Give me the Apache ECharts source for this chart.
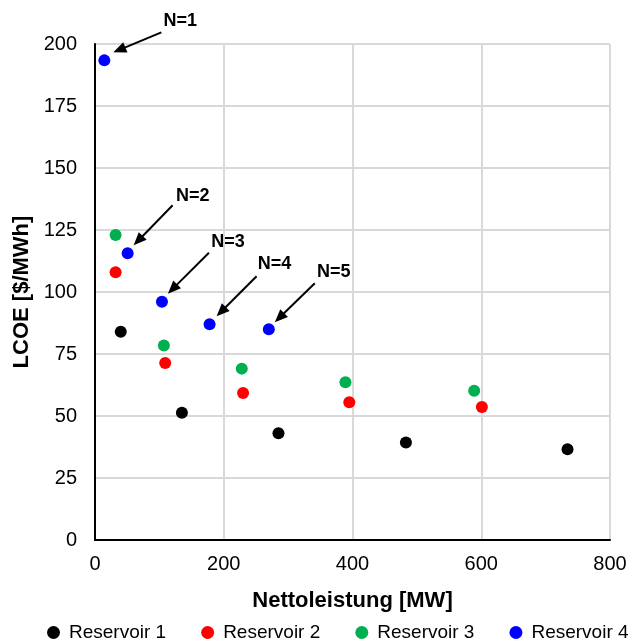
<!DOCTYPE html>
<html>
<head>
<meta charset="utf-8">
<script src="https://cdn.jsdelivr.net/npm/echarts@6/dist/echarts.min.js"></script>
<style>
html,body{margin:0;padding:0;background:#fff;}
#chart{width:633px;height:641px;}
</style>
</head>
<body>
<div id="chart"></div>
<script>
// ---- data ----
var seriesNames = ['Reservoir 1', 'Reservoir 2', 'Reservoir 3', 'Reservoir 4'];
var reservoir1 = [[40, 84], [135, 51.3], [285, 43], [483, 39.3], [734, 36.6]];
var reservoir2 = [[32, 108], [109, 71.4], [230, 59.3], [395, 55.5], [601, 53.6]];
var reservoir3 = [[32, 123], [107, 78.4], [228, 69.1], [389, 63.6], [589, 60.2]];
var reservoir4 = [[14.5, 193.4], [50.7, 115.6], [104, 96.1], [178, 87], [270, 85]];
var annotationLabels = ['N=1', 'N=2', 'N=3', 'N=4', 'N=5'];
var xTicks = [0, 200, 400, 600, 800];
var yTicks = [0, 25, 50, 75, 100, 125, 150, 175, 200];

// ---- styling ----
var colors = ['#000000', '#ff0000', '#00b050', '#0000ff'];
var FONT = "'Liberation Sans', Arial, sans-serif";
// pixel offsets of arrow tip, arrow tail, label centre relative to each blue point
var annOffsets = [
  {tip: [9, -8], tail: [57, -28], label: [76, -39]},
  {tip: [6, -8], tail: [45, -48], label: [65, -57]},
  {tip: [6, -8], tail: [47, -49], label: [66, -60]},
  {tip: [7, -8], tail: [47, -48], label: [65, -60]},
  {tip: [6, -7], tail: [46, -46], label: [65, -57]}
];

var chart = echarts.init(document.getElementById('chart'), null, {renderer: 'canvas'});
var allData = [reservoir1, reservoir2, reservoir3, reservoir4];

var option = {
  backgroundColor: '#ffffff',
  animation: false,
  textStyle: {fontFamily: FONT},
  grid: {left: 95, right: 23, top: 44, bottom: 101, containLabel: false},
  legend: {
    data: seriesNames,
    left: 47,
    top: 623,
    width: 610,
    padding: 0,
    icon: 'circle',
    itemWidth: 13,
    itemHeight: 13,
    itemGap: 35,
    textStyle: {fontFamily: FONT, fontSize: 19, color: '#000', padding: [0, 0, 0, 4]}
  },
  xAxis: {
    type: 'value',
    min: xTicks[0],
    max: xTicks[xTicks.length - 1],
    interval: xTicks[1] - xTicks[0],
    name: 'Nettoleistung [MW]',
    nameLocation: 'middle',
    nameGap: 50,
    nameTextStyle: {fontFamily: FONT, fontSize: 22, fontWeight: 'bold', color: '#000'},
    axisLine: {show: true, onZero: false, lineStyle: {color: '#000', width: 2}},
    axisTick: {show: false},
    axisLabel: {fontFamily: FONT, fontSize: 20, color: '#000', margin: 14},
    splitLine: {show: true, lineStyle: {color: '#d9d9d9', width: 2}}
  },
  yAxis: {
    type: 'value',
    min: yTicks[0],
    max: yTicks[yTicks.length - 1],
    interval: yTicks[1] - yTicks[0],
    name: 'LCOE [$/MWh]',
    nameLocation: 'middle',
    nameGap: 60,
    nameTextStyle: {fontFamily: FONT, fontSize: 22, fontWeight: 'bold', color: '#000'},
    axisLine: {show: true, onZero: false, lineStyle: {color: '#000', width: 2}},
    axisTick: {show: false},
    axisLabel: {fontFamily: FONT, fontSize: 20, color: '#000', margin: 18},
    splitLine: {show: true, lineStyle: {color: '#d9d9d9', width: 2}}
  },
  series: seriesNames.map(function (n, i) {
    return {
      name: n,
      type: 'scatter',
      data: allData[i],
      symbol: 'circle',
      symbolSize: 12,
      itemStyle: {color: colors[i], opacity: 1},
      z: 3
    };
  })
};
chart.setOption(option);

// annotations (arrows + labels) anchored to the Reservoir 4 points
var graphics = [];
reservoir4.forEach(function (pt, i) {
  var p = chart.convertToPixel({seriesIndex: 3}, pt);
  var o = annOffsets[i];
  var tip = [p[0] + o.tip[0], p[1] + o.tip[1]];
  var tail = [p[0] + o.tail[0], p[1] + o.tail[1]];
  var dx = tip[0] - tail[0], dy = tip[1] - tail[1];
  var len = Math.sqrt(dx * dx + dy * dy);
  var ux = dx / len, uy = dy / len;
  var headLen = 13, headHalf = 5.5;
  var base = [tip[0] - ux * headLen, tip[1] - uy * headLen];
  graphics.push({
    type: 'line',
    shape: {x1: tail[0], y1: tail[1], x2: base[0] + ux * 2, y2: base[1] + uy * 2},
    style: {stroke: '#000', lineWidth: 2},
    z: 10
  });
  graphics.push({
    type: 'polygon',
    shape: {points: [tip,
      [base[0] - uy * headHalf, base[1] + ux * headHalf],
      [base[0] + uy * headHalf, base[1] - ux * headHalf]]},
    style: {fill: '#000'},
    z: 10
  });
  graphics.push({
    type: 'text',
    x: p[0] + o.label[0],
    y: p[1] + o.label[1],
    style: {
      text: annotationLabels[i],
      fill: '#000',
      font: 'bold 18px ' + FONT,
      align: 'center',
      verticalAlign: 'middle'
    },
    z: 10
  });
});
chart.setOption({graphic: graphics});
</script>
</body>
</html>
